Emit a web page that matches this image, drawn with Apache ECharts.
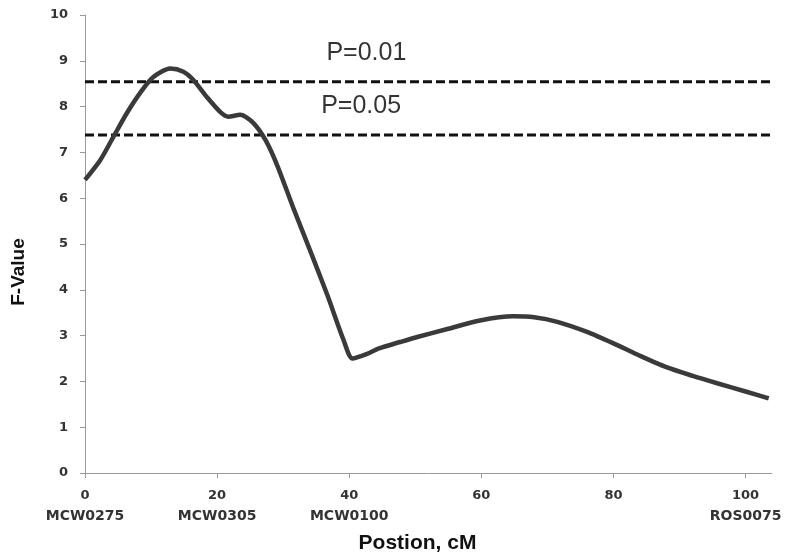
<!DOCTYPE html>
<html>
<head>
<meta charset="utf-8">
<script src="https://cdn.jsdelivr.net/npm/echarts@6/dist/echarts.min.js"></script>
<style>html,body{margin:0;padding:0;background:#fff;}#chart{width:791px;height:558px;}</style>
</head>
<body>
<div id="chart"></div>
<script>
// Position (cM) and F-value of the QTL curve
const positions = [0, 2.3, 4.3, 6.3, 8.3, 10.3, 12.9, 14.9, 16.4, 18.5, 20.5, 21.7, 23.5, 25.5, 27.4, 29.2, 31.5, 34.1, 36.7, 39.1, 40.5, 42.7, 44.5, 47.7, 50.3, 55, 59.8, 64.8, 68, 71.5, 76, 80, 84, 88, 92, 95.7, 100, 103.5];
const fValues  = [6.4, 6.83, 7.34, 7.85, 8.29, 8.64, 8.83, 8.76, 8.58, 8.2, 7.88, 7.78, 7.82, 7.64, 7.25, 6.68, 5.8, 4.85, 3.88, 2.92, 2.5, 2.6, 2.72, 2.86, 2.97, 3.15, 3.33, 3.42, 3.4, 3.3, 3.08, 2.83, 2.56, 2.31, 2.12, 1.96, 1.78, 1.63];
// significance thresholds
const thresholdNames = ['P=0.01', 'P=0.05'];
const thresholdValues = [8.54, 7.38];
const thresholdLabelX = [42.6, 41.8];
// x ticks and marker names
const xTicks = [0, 20, 40, 60, 80, 100];
const xMarkers = ['MCW0275', 'MCW0305', 'MCW0100', '', '', 'ROS0075'];

const chart = echarts.init(document.getElementById('chart'));
const curve = positions.map((p, i) => [p, fValues[i]]);

const thresholdSeries = thresholdValues.map((v, i) => ({
  type: 'line',
  name: thresholdNames[i],
  clip: false,
  silent: true,
  symbol: 'none',
  lineStyle: { color: '#111', width: 3, type: [9, 4] },
  data: [[0, v], [110, v]],
  z: 3
}));

const labelSeries = {
  type: 'scatter',
  name: 'threshold labels',
  silent: true,
  symbol: 'circle',
  symbolSize: 2,
  itemStyle: { color: 'rgba(255,255,255,0)' },
  data: thresholdValues.map((v, i) => [thresholdLabelX[i], v]),
  label: {
    show: true, position: 'top', distance: 15,
    formatter: function (p) { return thresholdNames[p.dataIndex]; },
    color: '#000', fontSize: 25, fontFamily: 'Liberation Sans, Arial, sans-serif'
  },
  z: 5
};

chart.setOption({
  backgroundColor: '#ffffff',
  animation: false,
  grid: { left: 85, right: 19, top: 15, bottom: 85, outerBoundsMode: 'none', containLabel: false },
  xAxis: {
    type: 'value', min: 0, max: 104, interval: 20,
    name: 'Postion, cM', nameLocation: 'middle', nameGap: 60,
    nameTextStyle: { fontSize: 21, fontWeight: 'bold', color: '#111', fontFamily: 'Liberation Sans, Arial, sans-serif', padding: [0, 22, 0, 0] },
    splitLine: { show: false },
    axisLine: { show: true, lineStyle: { color: '#9a9a9a', width: 1 } },
    axisTick: { show: true, length: 5, lineStyle: { color: '#9a9a9a' }, customValues: xTicks },
    axisLabel: {
      customValues: xTicks,
      margin: 13,
      formatter: function (val) {
        const i = xTicks.indexOf(val);
        if (i < 0) return '';
        return xMarkers[i] ? '{n|' + val + '}\n{m|' + xMarkers[i] + '}' : '{n|' + val + '}';
      },
      rich: {
        n: { fontSize: 13, fontWeight: 'bold', color: '#333', lineHeight: 20, fontFamily: 'DejaVu Sans, Verdana, sans-serif' },
        m: { fontSize: 14, fontWeight: 'bold', color: '#333', lineHeight: 20, fontFamily: 'DejaVu Sans, Verdana, sans-serif' }
      }
    }
  },
  yAxis: {
    type: 'value', min: 0, max: 10, interval: 1,
    name: 'F-Value', nameLocation: 'middle', nameGap: 57, nameRotate: 90,
    nameTextStyle: { fontSize: 19, fontWeight: 'bold', color: '#111', fontFamily: 'Liberation Sans, Arial, sans-serif', padding: [0, 56, 0, 0] },
    splitLine: { show: false },
    axisLine: { show: true, lineStyle: { color: '#9a9a9a', width: 1 } },
    axisTick: { show: true, length: 5, lineStyle: { color: '#9a9a9a' } },
    axisLabel: { margin: 17, fontSize: 13, fontWeight: 'bold', color: '#333', fontFamily: 'DejaVu Sans, Verdana, sans-serif' }
  },
  series: [
    {
      type: 'line',
      name: 'F-value',
      data: curve,
      smooth: 0.25,
      symbol: 'none',
      lineStyle: { color: '#3a3a3a', width: 4.5 },
      z: 4
    }
  ].concat(thresholdSeries, [labelSeries])
});
</script>
</body>
</html>
